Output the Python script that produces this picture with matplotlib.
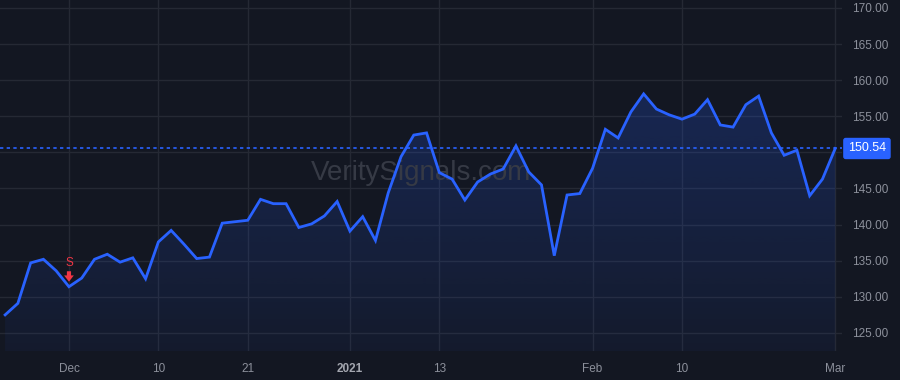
import numpy as np
import pandas as pd
import matplotlib
matplotlib.use("Agg")
import matplotlib.pyplot as plt
from matplotlib.colors import LinearSegmentedColormap

# daily closes, US trading days from 2020-11-23 to 2021-03-01
holidays = ["2020-11-26", "2020-12-25", "2021-01-01", "2021-01-18", "2021-02-15"]
dates = pd.bdate_range("2020-11-23", "2021-03-01")
dates = dates[~dates.isin(pd.to_datetime(holidays))]

closes = [127.5, 129.1, 134.7, 135.2, 133.6, 131.4, 132.6, 135.2, 135.9, 134.8,
          135.4, 132.5, 137.6, 139.2, 137.3, 135.3, 135.5, 140.2, 140.4, 140.6,
          143.5, 142.9, 142.9, 139.6, 140.1, 141.2, 143.2, 139.1, 141.1, 137.8,
          144.4, 149.4, 152.4, 152.7, 147.2, 146.3, 143.4, 145.9, 147.0, 147.7,
          150.9, 147.3, 145.5, 135.7, 144.1, 144.3, 147.8, 153.2, 152.0, 155.6,
          158.1, 156.0, 155.2, 154.6, 155.3, 157.3, 153.8, 153.5, 156.6, 157.8,
          152.7, 149.6, 150.3, 144.0, 146.3, 150.54]

tick_dates = ["2020-12-01", "2020-12-10", "2020-12-21", "2021-01-04", "2021-01-13",
              "2021-02-01", "2021-02-10", "2021-03-01"]
tick_labels = ["Dec", "10", "21", "2021", "13", "Feb", "10", "Mar"]
y_ticks = [125, 130, 135, 140, 145, 150, 155, 160, 165, 170]

signal_date = "2020-12-01"
signal_text = "S"
last_price = closes[-1]
watermark = "VeritySignals.com"

# colours
BG = "#131722"
GRID = "#252934"
LINE = "#2962ff"
TXT = "#8c909b"
RED = "#f23645"

x = np.arange(len(closes))
y = np.array(closes)
pos = {d.strftime("%Y-%m-%d"): i for i, d in enumerate(dates)}
tick_pos = [pos[d] for d in tick_dates]

fig = plt.figure(figsize=(9, 3.8), dpi=100, facecolor=BG)
ax = fig.add_axes([0, 1 - 351 / 380, 842 / 900, 351 / 380])
ax.set_facecolor(BG)

ymin, ymax = 122.5, 171.1
ax.set_ylim(ymin, ymax)
ax.set_xlim(-0.4, 65.53)

# grid
for v in y_ticks:
    ax.axhline(v, color=GRID, lw=1, zorder=0)
for p in tick_pos:
    ax.axvline(p, color=GRID, lw=1, zorder=0)

# gradient area under the line
cmap = LinearSegmentedColormap.from_list(
    "g", [(41/255, 98/255, 255/255, 0.05), (41/255, 98/255, 255/255, 0.22)])
grad = np.linspace(0, 1, 256).reshape(-1, 1)
img = ax.imshow(grad, cmap=cmap, aspect="auto", origin="lower",
                extent=[x[0], x[-1], ymin, y.max()], zorder=1)
poly = ax.fill_between(x, y, ymin, color="none", lw=0)
img.set_clip_path(poly.get_paths()[0], ax.transData)

ax.plot(x, y, color=LINE, lw=2, zorder=3, solid_joinstyle="miter")

# last price line + label on the price scale
ax.axhline(last_price, color=LINE, lw=1.2, ls=(0, (2, 2)), zorder=2)
ax.text(1.007, last_price, f"{last_price:.2f}", transform=ax.get_yaxis_transform(),
        ha="left", va="center", color="white", fontsize=9, family="Liberation Sans",
        bbox=dict(boxstyle="round,pad=0.32,rounding_size=0.15", fc=LINE, ec=LINE),
        zorder=5, clip_on=False)

# watermark
ax.text(0.5, 0.507, watermark, transform=ax.transAxes, ha="center", va="center",
        fontsize=20, color="#363a45", family="Liberation Sans", zorder=2)

# sell signal: arrow pointing down at the bar, letter above it
si = pos[signal_date]
anchor = (si, closes[si] + 0.7)
ax.annotate("", xy=anchor, xytext=(0, 7.5), textcoords="offset points",
            arrowprops=dict(arrowstyle="simple,head_width=0.7,head_length=0.45,tail_width=0.3",
                            color=RED, lw=0, shrinkA=0, shrinkB=0), zorder=4)
ax.annotate(signal_text, xy=anchor, xytext=(0, 9), textcoords="offset points",
            ha="center", va="bottom", color=RED, fontsize=8.5, family="Liberation Sans")

# axes
ax.yaxis.tick_right()
ax.set_yticks(y_ticks)
# the 150.00 label sits under the last-price box
ax.set_yticklabels(["" if v == 150 else f"{v:.2f}" for v in y_ticks])
ax.set_xticks(tick_pos)
ax.set_xticklabels(tick_labels)
ax.tick_params(axis="both", length=0, colors=TXT, labelsize=8.5)
ax.tick_params(axis="y", pad=7)
ax.tick_params(axis="x", pad=9)
for lab in ax.get_xticklabels() + ax.get_yticklabels():
    lab.set_family("Liberation Sans")
for lab in ax.get_xticklabels():
    if lab.get_text() == "2021":
        lab.set_fontweight("bold")
        lab.set_color("#a3a6af")
for s in ax.spines.values():
    s.set_visible(False)

fig.savefig("out.png", dpi=100, facecolor=BG)
